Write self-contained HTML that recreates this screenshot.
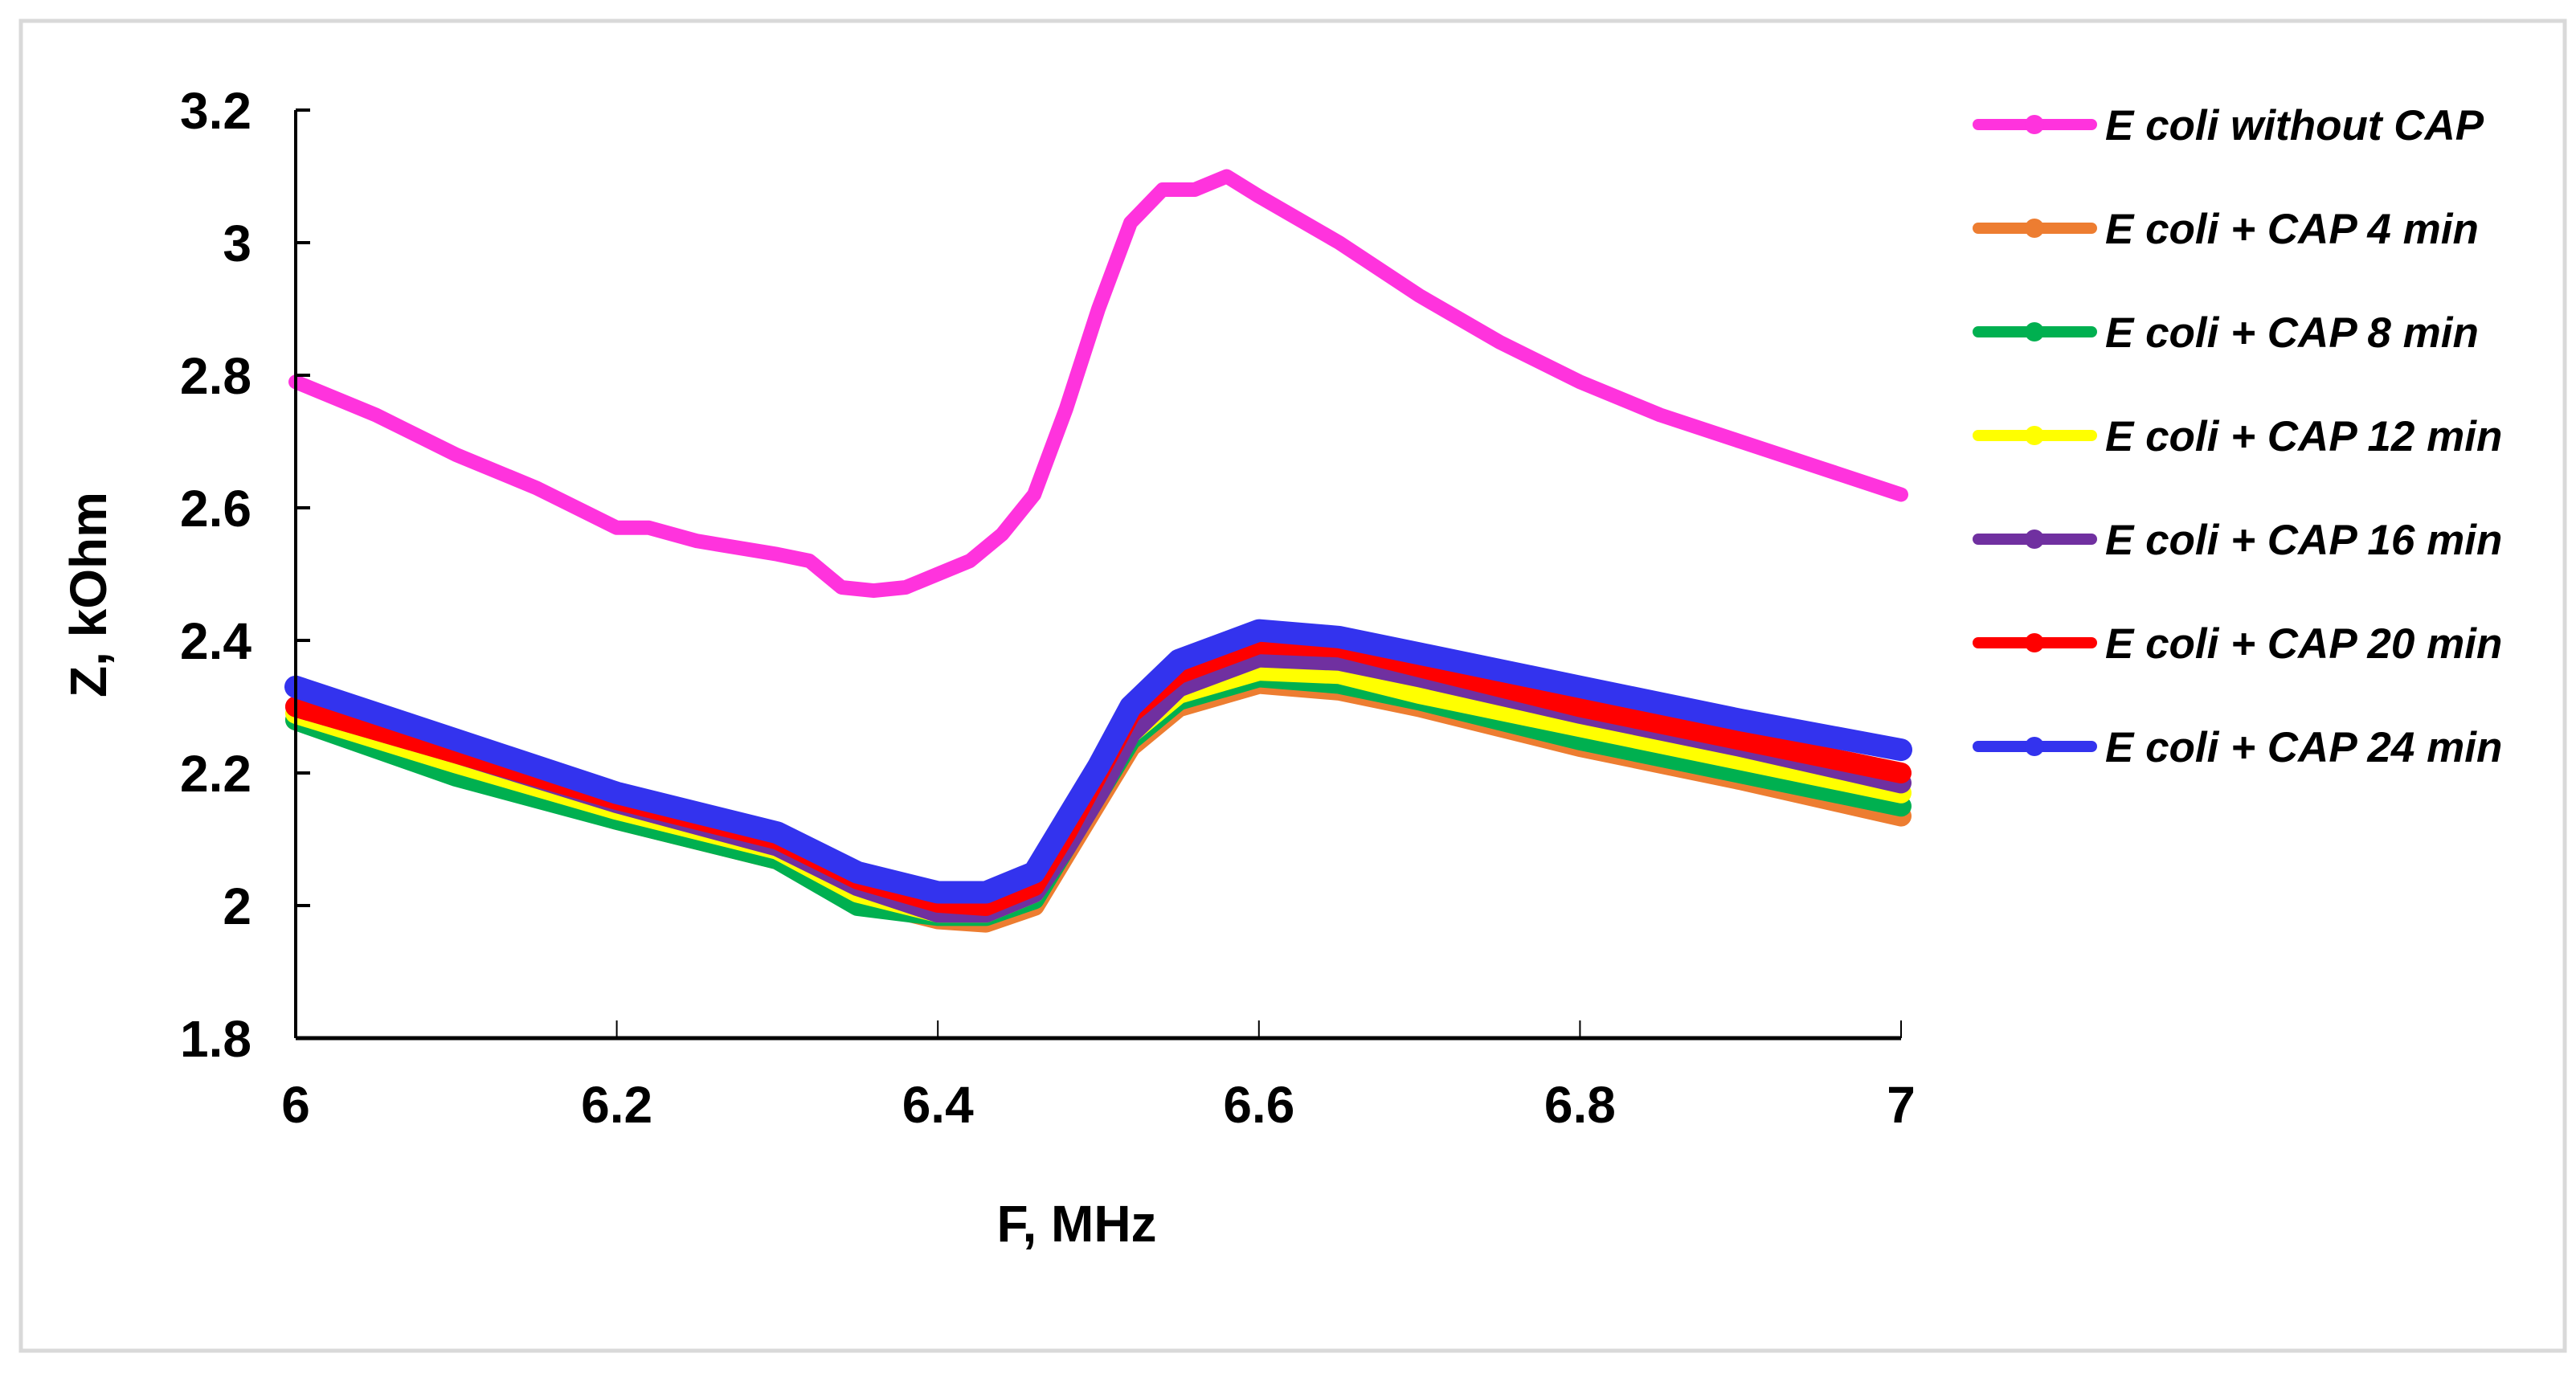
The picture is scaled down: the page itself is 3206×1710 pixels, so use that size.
<!DOCTYPE html>
<html><head><meta charset="utf-8"><style>
html,body{margin:0;padding:0;background:#fff;}
svg{display:block;}
text{font-family:"Liberation Sans",Arial,sans-serif;}
</style></head><body>
<svg id="chart" width="3206" height="1710" viewBox="0 0 3206 1710" xmlns="http://www.w3.org/2000/svg">
<rect x="26" y="26" width="3166" height="1655" fill="#fff" stroke="#d9d9d9" stroke-width="5"/>
<g id="series"></g>
<g id="axes"></g>
<g id="legend"></g>
<text x="1340" y="1545" font-size="64" font-weight="bold" text-anchor="middle">F, MHz</text>
<text transform="translate(132,740) rotate(-90)" font-size="64" font-weight="bold" text-anchor="middle">Z, kOhm</text>
</svg>
<script>
const freqPink = [6.0,6.05,6.1,6.15,6.2,6.22,6.25,6.3,6.32,6.34,6.36,6.38,6.4,6.42,6.44,6.46,6.48,6.5,6.52,6.54,6.56,6.58,6.6,6.65,6.7,6.75,6.8,6.85,6.9,6.95,7.0];
const zPink = [2.79,2.74,2.68,2.63,2.57,2.57,2.55,2.53,2.52,2.48,2.475,2.48,2.50,2.52,2.56,2.62,2.75,2.90,3.03,3.08,3.08,3.10,3.07,3.00,2.92,2.85,2.79,2.74,2.70,2.66,2.62];
const freq = [6.0,6.1,6.2,6.3,6.35,6.4,6.43,6.46,6.48,6.5,6.52,6.55,6.6,6.65,6.7,6.8,6.9,7.0];
const zOrange = [2.28,2.20,2.13,2.07,2.01,1.98,1.975,2.00,2.08,2.16,2.24,2.30,2.335,2.325,2.30,2.24,2.19,2.135];
const zGreen  = [2.28,2.195,2.13,2.07,2.00,1.985,1.985,2.01,2.09,2.17,2.25,2.31,2.345,2.335,2.31,2.25,2.20,2.15];
const zYellow = [2.29,2.215,2.145,2.085,2.02,1.99,1.99,2.02,2.10,2.18,2.26,2.32,2.355,2.35,2.32,2.27,2.22,2.17];
const zPurple = [2.30,2.23,2.155,2.09,2.03,1.99,1.99,2.02,2.09,2.17,2.26,2.33,2.375,2.37,2.345,2.29,2.24,2.185];
const zRed    = [2.30,2.23,2.16,2.10,2.04,2.005,2.00,2.03,2.11,2.20,2.29,2.35,2.395,2.39,2.36,2.30,2.25,2.20];
const zBlue   = [2.33,2.25,2.17,2.11,2.05,2.02,2.02,2.05,2.13,2.21,2.30,2.37,2.415,2.405,2.38,2.33,2.28,2.235];
const yTicks = [1.8,2,2.2,2.4,2.6,2.8,3,3.2];
const yTickLabels = ["1.8","2","2.2","2.4","2.6","2.8","3","3.2"];
const xTicks = [6,6.2,6.4,6.6,6.8,7];
const xTickLabels = ["6","6.2","6.4","6.6","6.8","7"];
const seriesNames = ["E coli without CAP","E coli + CAP 4 min","E coli + CAP 8 min","E coli + CAP 12 min","E coli + CAP 16 min","E coli + CAP 20 min","E coli + CAP 24 min"];

const NS="http://www.w3.org/2000/svg";
const X0=368,X1=2366,Y0=1292,Y1=137;
function sx(v){return X0+(v-6)/(7-6)*(X1-X0);}
function sy(v){return Y0-(v-1.8)/(3.2-1.8)*(Y0-Y1);}
function mk(tag,attrs,parent){const e=document.createElementNS(NS,tag);for(const k in attrs)e.setAttribute(k,attrs[k]);parent.appendChild(e);return e;}

const series=[
 {xs:freqPink,ys:zPink,color:"#ff33dd",w:18,key:"pink"},
 {xs:freq,ys:zOrange,color:"#ed7d31",w:26,key:"orange"},
 {xs:freq,ys:zGreen,color:"#00b050",w:26,key:"green"},
 {xs:freq,ys:zYellow,color:"#ffff00",w:26,key:"yellow"},
 {xs:freq,ys:zPurple,color:"#7030a0",w:26,key:"purple"},
 {xs:freq,ys:zRed,color:"#ff0000",w:26,key:"red"},
 {xs:freq,ys:zBlue,color:"#3333ee",w:28,key:"blue"}
];
const sg=document.getElementById('series');
series.forEach((s,i)=>{
 const pts=s.xs.map((x,j)=>sx(x).toFixed(1)+","+sy(s.ys[j]).toFixed(1)).join(" ");
 const pl=mk('polyline',{points:pts,fill:"none",stroke:s.color,"stroke-width":s.w,"stroke-linejoin":"round","stroke-linecap":"round"},sg);
 
 
});

const ag=document.getElementById('axes');
const ya=mk('line',{x1:X0,y1:Y1,x2:X0,y2:Y0,stroke:"#000","stroke-width":4},ag);


const xa=mk('line',{x1:X0,y1:Y0,x2:X1,y2:Y0,stroke:"#000","stroke-width":5},ag);


yTicks.forEach((v,i)=>{
 const t=mk('line',{x1:X0,y1:sy(v),x2:X0+18,y2:sy(v),stroke:"#000","stroke-width":4},ag);
 
 
 const l=mk('text',{x:313,y:sy(v)+23,"font-size":64,"font-weight":"bold","text-anchor":"end"},ag);
 l.textContent=yTickLabels[i];
 
 
});
xTicks.forEach((v,i)=>{
 const t=mk('line',{x1:sx(v),y1:Y0,x2:sx(v),y2:Y0-22,stroke:"#000","stroke-width":2},ag);
 
 
 const l=mk('text',{x:sx(v),y:1397,"font-size":64,"font-weight":"bold","text-anchor":"middle"},ag);
 l.textContent=xTickLabels[i];
 
 
});

const lg=document.getElementById('legend');
series.forEach((s,i)=>{
 const y=155+i*129;
 const g=mk('g',{},lg);
 
 
 mk('line',{x1:2462,y1:y,x2:2603,y2:y,stroke:s.color,"stroke-width":14,"stroke-linecap":"round"},g);
 mk('circle',{cx:2532,cy:y,r:12,fill:s.color},g);
 const t=mk('text',{x:2620,y:y+19,"font-size":53,"font-weight":"bold","font-style":"italic"},g);
 t.textContent=seriesNames[i];
});
</script>
</body></html>
